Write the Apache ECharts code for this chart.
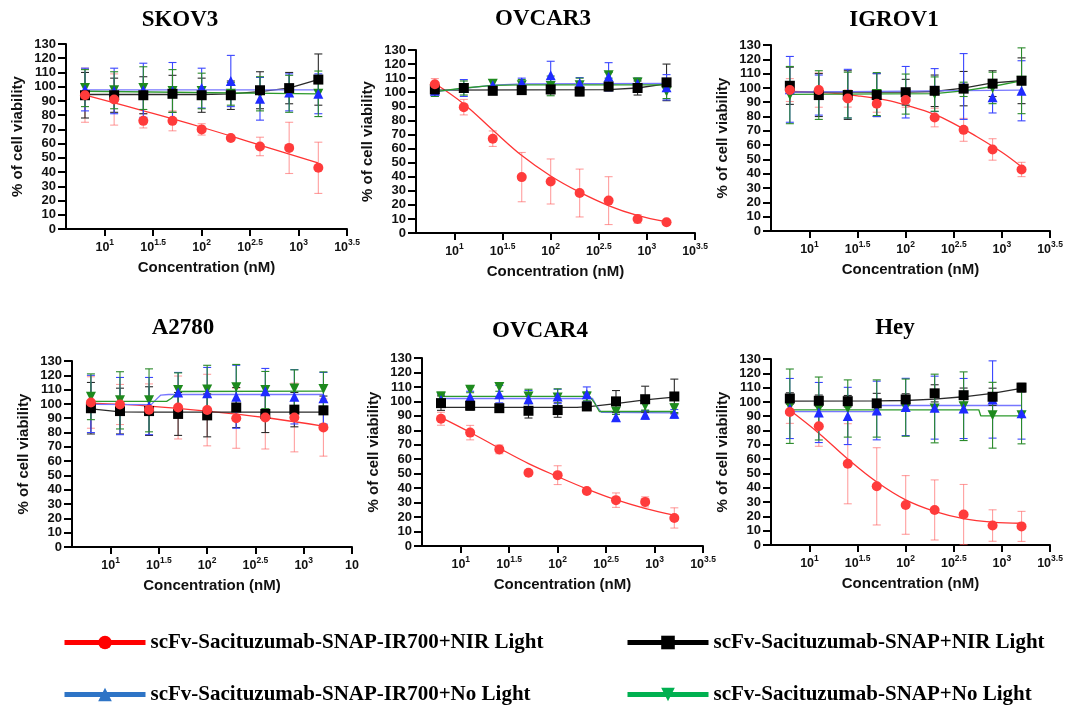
<!DOCTYPE html>
<html>
<head>
<meta charset="utf-8">
<title>Cell viability</title>
<script src="https://cdn.jsdelivr.net/npm/echarts@6/dist/echarts.min.js"></script>
<style>
  html, body { margin: 0; padding: 0; background: #fff; }
  #chart { width: 1067px; height: 709px; }
</style>
</head>
<body>
<div id="chart"></div>
<script>
// 2-fold dilution series (nM), plotted on a log10 axis
const doseNM = [6.25, 12.5, 25, 50, 100, 200, 400, 800, 1600];

const cellLines = ['SKOV3', 'OVCAR3', 'IGROV1', 'A2780', 'OVCAR4', 'Hey'];

const treatments = [
  'scFv-Sacituzumab-SNAP-IR700+NIR Light',
  'scFv-Sacituzumab-SNAP+NIR Light',
  'scFv-Sacituzumab-SNAP-IR700+No Light',
  'scFv-Sacituzumab-SNAP+No Light'
];

// x ticks (log10 nM) and the exponent printed on each as 10^e
const xTickVals = [1, 1.5, 2, 2.5, 3, 3.5];
const xTickExp = ['1', '1.5', '2', '2.5', '3', '3.5'];
const xTickExpA2780 = ['1', '1.5', '2', '2.5', '3', ''];
const yTicks = [0, 130, 10];

// mean viability (%), rows follow the treatments order
const skov3Mean = [
  [94, 91, 76, 76, 70, 64, 58, 57, 43],
  [94, 94, 94, 95, 94, 94, 97.5, 99, 105],
  [98, 97, 97.5, 97, 99, 104, 91.5, 96, 95],
  [99, 97.5, 99, 97, 97, 95, 95, 95, 95]
];
const skov3Sd = [
  [19, 18, 5, 7, 4, 1, 6.5, 18, 18],
  [16, 12, 13, 13, 12, 10, 13, 11, 18],
  [15, 16, 19, 20, 14, 18, 15, 13, 14],
  [13, 13, 15, 15, 12.5, 8, 12, 13, 16]
];
const ovcar3Mean = [
  [105.7, 89.4, 67, 39.7, 36.6, 28.4, 23, 10, 7.6],
  [102, 103, 101, 101.5, 102, 100.5, 104, 103, 107],
  [101, 103, 105, 107, 112, 106.4, 111, 106, 103.5],
  [101, 103, 106, 105, 104.5, 105, 112, 107, 100.5]
];
const ovcar3Sd = [
  [4, 5.5, 5.5, 17.5, 16, 17, 17, 3, 1],
  [3, 3, 2, 2, 3, 3, 3, 5, 13],
  [4, 6, 4, 3, 10, 4, 10, 4, 9],
  [4, 5, 3, 4, 7, 5, 2, 3, 5]
];
const igrov1Mean = [
  [98.5, 98.5, 92.6, 89, 91.5, 79.3, 70.7, 57, 43],
  [101.5, 95, 95, 95, 97, 98, 99.5, 103, 105],
  [99, 95, 96, 95, 97, 98.5, 101, 93.5, 98],
  [95, 95, 95, 95.7, 95.7, 95.7, 99, 100, 105]
];
const igrov1Sd = [
  [8, 12, 6, 6, 5, 6.5, 8, 7.5, 5],
  [13, 15, 17, 15, 9, 11, 12, 9, 16],
  [23, 14, 17, 15, 18, 15, 23, 11, 21],
  [20, 17, 16, 15, 14, 12, 5, 11, 23]
];
const a2780Mean = [
  [101, 99.6, 96, 97.5, 95.7, 90, 90.5, 90.5, 83.5],
  [97, 95, 95, 93, 92, 97.5, 93, 96, 95.5],
  [100, 98.5, 98.5, 108, 107.5, 105, 108.8, 105, 104],
  [105, 102.5, 102.5, 109.7, 110, 111.6, 109.7, 110.8, 110.4]
];
const a2780Sd = [
  [18, 14, 18, 22, 25, 21, 22, 24, 20],
  [18, 16, 17, 15, 15, 14, 13, 12, 10],
  [20, 20, 20, 14, 18, 22, 16, 19, 18],
  [16, 20, 22, 12, 17, 16, 13, 13, 12]
];
const ovcar4Mean = [
  [88, 78.4, 66.8, 50.7, 49, 38, 31.7, 30.5, 19.4],
  [98.8, 97, 95.3, 93.5, 94, 96.5, 100, 101.5, 103.4],
  [101, 103, 105, 101.5, 103.4, 105, 89, 90.7, 91.4],
  [103.4, 108, 110, 103.4, 102.7, 103.4, 93, 97, 95.3]
];
const ovcar4Sd = [
  [4.5, 5, 3, 1, 6.5, 1.5, 5, 3.5, 7],
  [5, 3, 2, 5, 5, 2, 7.5, 9, 12],
  [4, 4, 6, 6, 5, 5, 2, 3, 3],
  [3, 2, 3, 5, 6, 3, 2, 3, 3]
];
const heyMean = [
  [93, 83, 56.8, 41, 28, 24.5, 21.3, 13.6, 13],
  [102.4, 100.8, 100.5, 99, 101.7, 106, 104.7, 103.6, 110],
  [95.4, 92.6, 90.2, 94, 96.5, 96, 95.4, 101.7, 92],
  [97, 95.4, 95.4, 95.4, 96, 95.4, 97, 90.7, 90.7]
];
const heySd = [
  [8, 14, 28, 27, 20.5, 21, 21, 11, 10.5],
  [4, 4, 4, 7, 4, 6, 5, 6, 3],
  [21, 21, 20, 20.5, 20, 22, 21, 27, 18],
  [26, 22, 20, 20, 20, 24, 24, 23, 20]
];

// fitted dose-response curves: [log10 nM, %]
const skov3Fit = [
  [[0.8, 94], [1.4, 83], [2.0, 71.5], [2.6, 59], [3.2, 46.5]],
  [[0.8, 94.5], [2.0, 94.5], [2.3, 95], [2.6, 96.5], [2.9, 99], [3.2, 105]],
  [[0.8, 97.8], [3.2, 97.8]],
  [[0.8, 96.8], [3.2, 95]]
];
const ovcar3Fit = [
  [[0.8, 106], [1.1, 91.5], [1.4, 73], [1.7, 55], [2.0, 40.5], [2.3, 29], [2.6, 19.5], [2.9, 12.5], [3.2, 8]],
  [[0.8, 101.5], [2.6, 101.8], [2.9, 103], [3.2, 106]],
  [[0.8, 100.5], [1.1, 102.8], [1.4, 105], [1.7, 106], [3.2, 106.2]],
  [[0.8, 100.5], [1.1, 103], [1.4, 104.8], [1.7, 105.2], [3.2, 105.2]]
];
const igrov1Fit = [
  [[0.8, 97.5], [1.2, 96.5], [1.5, 94.5], [1.8, 91.5], [2.0, 88], [2.3, 81.5], [2.5, 75], [2.7, 67.5], [3.0, 55], [3.2, 45]],
  [[0.8, 97], [2.0, 97], [2.3, 97.5], [2.6, 99.8], [2.9, 103.5], [3.2, 105]],
  [[0.8, 97], [3.2, 98.5]],
  [[0.8, 95.5], [2.3, 96], [2.6, 98], [2.9, 101], [3.2, 105]]
];
const a2780Fit = [
  [[0.8, 100.5], [1.4, 98.5], [2.0, 95], [2.6, 90.5], [3.2, 84.5]],
  [[0.8, 96.5], [1.1, 94.5], [1.4, 94.2], [3.2, 94.2]],
  [[0.8, 99.7], [1.42, 99.5], [1.47, 103], [1.52, 106.2], [1.6, 106.6], [3.2, 106.6]],
  [[0.8, 101.8], [1.58, 101.8], [1.63, 104], [1.7, 108.7], [3.2, 109]]
];
const ovcar4Fit = [
  [[0.8, 88.8], [1.1, 78.5], [1.4, 67.5], [1.7, 57], [2.0, 48], [2.3, 39.5], [2.6, 32], [2.9, 26], [3.2, 21.3]],
  [[0.8, 95.8], [2.2, 95.8], [2.35, 96.5], [2.6, 98.5], [2.9, 101], [3.2, 103]],
  [[0.8, 102], [2.36, 102], [2.4, 97], [2.45, 92.5], [3.2, 92]],
  [[0.8, 103.5], [2.33, 103.5], [2.38, 99], [2.43, 93], [3.2, 93]]
];
const heyFit = [
  [[0.8, 94], [1.1, 78], [1.4, 60], [1.7, 44], [2.0, 31.5], [2.3, 23.5], [2.6, 18.5], [2.9, 16], [3.2, 15.2]],
  [[0.8, 100.5], [1.7, 100.7], [2.0, 101], [2.3, 102], [2.6, 103.6], [2.9, 106], [3.2, 109.5]],
  [[0.8, 93.2], [1.66, 93.2], [1.69, 97.5], [3.2, 97.5]],
  [[0.8, 94.5], [2.76, 94.5], [2.78, 90.3], [3.2, 90.3]]
];

const means = [skov3Mean, ovcar3Mean, igrov1Mean, a2780Mean, ovcar4Mean, heyMean];
const sds = [skov3Sd, ovcar3Sd, igrov1Sd, a2780Sd, ovcar4Sd, heySd];
const fits = [skov3Fit, ovcar3Fit, igrov1Fit, a2780Fit, ovcar4Fit, heyFit];
const tickSets = [xTickExp, xTickExp, xTickExp, xTickExpA2780, xTickExp, xTickExp];

// panel boxes [left, top, width, height] and title centres
const boxes = [
  [66, 44, 281, 185], [416, 50, 279, 183], [771, 45, 279, 186],
  [72, 361, 280, 186], [422, 358, 281, 188], [771, 359, 279, 186]
];
const titlePos = [[180, 20], [543, 19], [894, 20], [183, 328], [540, 331], [895, 328]];

const SANS = 'Liberation Sans, Arial, sans-serif';
const SERIF = 'Liberation Serif, Times New Roman, serif';

const markerColor = ['#ff3b3b', '#000000', '#1f2bff', '#1e8a1e'];
const curveColor = ['#ff3434', '#2a2a2a', '#7676ff', '#2c9a2c'];
const barColor = ['rgba(255,80,80,0.55)', '#2b2b2b', '#3a46ff', '#2a8a2a'];
const legendColor = ['#ff0000', '#000000', '#2e74c6', '#00b050'];
const symbols = ['circle', 'rect', 'triangle', 'triangle'];
const symbolRot = [0, 0, 0, 180];
const symbolSizes = [10, 10, 10, 10];
const stackZ = [9, 8, 6, 5];

const logDose = doseNM.map(d => Math.log10(d));

function errorBars(color) {
  return function (params, api) {
    const x = api.value(0), m = api.value(1), e = api.value(2);
    const hi = api.coord([x, m + e]);
    const lo = api.coord([x, m - e]);
    const cap = 4;
    const style = { stroke: color, lineWidth: 1.1 };
    return {
      type: 'group',
      children: [
        { type: 'line', shape: { x1: hi[0], y1: hi[1], x2: lo[0], y2: lo[1] }, style },
        { type: 'line', shape: { x1: hi[0] - cap, y1: hi[1], x2: hi[0] + cap, y2: hi[1] }, style },
        { type: 'line', shape: { x1: lo[0] - cap, y1: lo[1], x2: lo[0] + cap, y2: lo[1] }, style }
      ]
    };
  };
}

const grid = [], xAxis = [], yAxis = [], series = [], graphic = [];

cellLines.forEach((name, p) => {
  const [l, t, w, h] = boxes[p];
  grid.push({ left: l, top: t, width: w, height: h });
  const exps = tickSets[p];
  xAxis.push({
    gridIndex: p, type: 'value', min: 0.6, max: 3.5,
    axisLine: { show: true, onZero: false, lineStyle: { color: '#000', width: 2 } },
    axisTick: { show: true, length: 7, customValues: xTickVals, lineStyle: { color: '#000', width: 2 } },
    splitLine: { show: false },
    axisLabel: {
      margin: 9,
      customValues: xTickVals,
      formatter: v => {
        const i = xTickVals.indexOf(Math.round(v * 10) / 10);
        if (i < 0) return '';
        return exps[i] ? '{b|10}{s|' + exps[i] + '}' : '{b|10}';
      },
      rich: {
        b: { fontFamily: SANS, fontWeight: 'bold', fontSize: 12.5, color: '#111', lineHeight: 16, verticalAlign: 'bottom' },
        s: { fontFamily: SANS, fontWeight: 'bold', fontSize: 8.5, color: '#111', lineHeight: 8, verticalAlign: 'top' }
      }
    },
    name: 'Concentration (nM)', nameLocation: 'middle', nameGap: 31,
    nameTextStyle: { fontFamily: SANS, fontWeight: 'bold', fontSize: 15, color: '#111' }
  });
  yAxis.push({
    gridIndex: p, type: 'value', min: yTicks[0], max: yTicks[1], interval: yTicks[2],
    axisLine: { show: true, lineStyle: { color: '#000', width: 2 } },
    axisTick: { show: true, length: 8, lineStyle: { color: '#000', width: 2 } },
    splitLine: { show: false },
    axisLabel: { margin: 10, fontFamily: SANS, fontWeight: 'bold', fontSize: 13, color: '#111' },
    name: '% of cell viability', nameLocation: 'middle', nameGap: 41, nameRotate: 90,
    nameTextStyle: { fontFamily: SANS, fontWeight: 'bold', fontSize: 15, color: '#111' }
  });
  graphic.push({
    type: 'text', x: titlePos[p][0], y: titlePos[p][1],
    style: { text: name, font: 'bold 23px ' + SERIF, fill: '#000', textAlign: 'center', textVerticalAlign: 'middle' }
  });

  treatments.forEach((tr, s) => {
    const common = {
      name: tr, xAxisIndex: p, yAxisIndex: p, animation: false, silent: true,
      symbol: symbols[s], symbolRotate: symbolRot[s], symbolSize: symbolSizes[s]
    };
    series.push(Object.assign({}, common, {
      type: 'line', data: fits[p][s], showSymbol: false,
      smooth: s === 0 ? 0.4 : false,
      lineStyle: { color: curveColor[s], width: 1.3 },
      itemStyle: { color: markerColor[s] },
      z: 2
    }));
    series.push({
      name: tr, type: 'custom', xAxisIndex: p, yAxisIndex: p, animation: false, silent: true,
      data: logDose.map((x, i) => [x, means[p][s][i], sds[p][s][i]]),
      encode: { x: 0, y: 1 },
      renderItem: errorBars(barColor[s]),
      z: 3
    });
    series.push(Object.assign({}, common, {
      type: 'scatter',
      data: logDose.map((x, i) => [x, means[p][s][i]]),
      itemStyle: { color: markerColor[s], opacity: 1 },
      z: stackZ[s]
    }));
  });
});

const legendSpots = [[62, 632], [625, 632], [62, 684], [625, 684]];
const legend = treatments.map((tr, s) => ({
  left: legendSpots[s][0], top: legendSpots[s][1], padding: 0,
  itemWidth: 81, itemHeight: 17, itemGap: 0, selectedMode: false,
  textStyle: { fontFamily: SERIF, fontWeight: 'bold', fontSize: 21, color: '#000' },
  data: [{
    name: tr,
    itemStyle: { color: legendColor[s] },
    lineStyle: { color: legendColor[s], width: 5 }
  }]
}));

const chart = echarts.init(document.getElementById('chart'), null, { renderer: 'canvas' });
chart.setOption({
  backgroundColor: '#ffffff',
  animation: false,
  grid, xAxis, yAxis, series, legend, graphic
});
</script>
</body>
</html>
